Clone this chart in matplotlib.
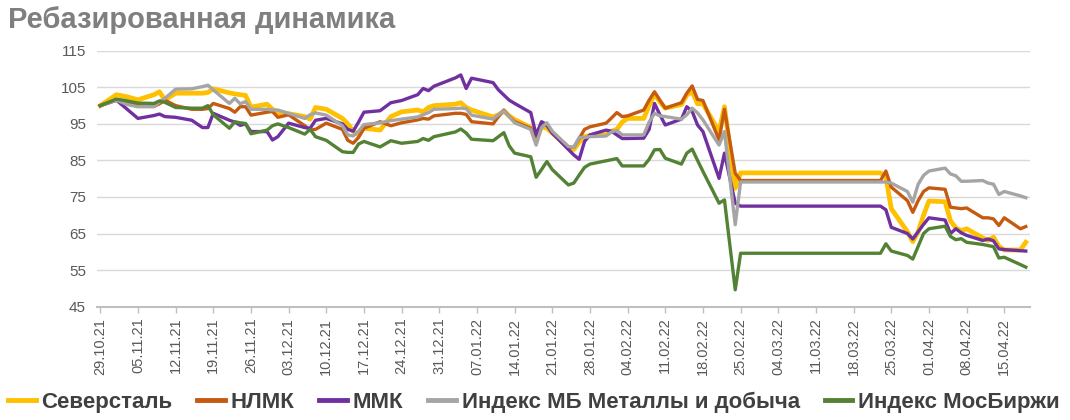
import matplotlib
matplotlib.use('Agg')
import matplotlib.pyplot as plt
import matplotlib.dates as mdates
import pandas as pd

# Торговые дни (выборочно), значения ребазированы к 29.10.21 = 100
dates = [
    '29.10.21', '01.11.21', '03.11.21', '05.11.21', '08.11.21', '09.11.21', '10.11.21', '12.11.21',
    '15.11.21', '17.11.21', '18.11.21', '19.11.21', '22.11.21', '23.11.21', '24.11.21', '25.11.21',
    '26.11.21', '29.11.21', '30.11.21',
    '01.12.21', '03.12.21', '06.12.21', '07.12.21', '08.12.21', '10.12.21', '13.12.21', '14.12.21',
    '15.12.21', '16.12.21', '17.12.21', '20.12.21', '22.12.21', '24.12.21', '27.12.21', '28.12.21',
    '29.12.21', '30.12.21',
    '03.01.22', '04.01.22', '05.01.22', '06.01.22', '10.01.22', '11.01.22', '12.01.22', '13.01.22',
    '14.01.22', '17.01.22', '18.01.22', '19.01.22', '20.01.22', '21.01.22', '24.01.22', '25.01.22',
    '26.01.22', '27.01.22', '28.01.22', '31.01.22',
    '01.02.22', '02.02.22', '03.02.22', '04.02.22', '07.02.22', '08.02.22', '09.02.22', '10.02.22',
    '11.02.22', '14.02.22', '15.02.22', '16.02.22', '17.02.22', '18.02.22', '21.02.22', '22.02.22',
    '24.02.22', '25.02.22',
    '23.03.22', '24.03.22', '25.03.22', '28.03.22', '29.03.22', '30.03.22', '31.03.22',
    '01.04.22', '04.04.22', '05.04.22', '06.04.22', '07.04.22', '08.04.22', '11.04.22', '12.04.22',
    '13.04.22', '14.04.22', '15.04.22', '18.04.22', '19.04.22',
]

severstal = [
    100, 103.0, 102.4, 101.6, 103.0, 103.8, 101.5, 103.4, 103.4, 103.4, 103.6, 104.6, 103.5, 103.2,
    103.0, 102.8, 99.6, 100.4, 99.0,
    98.0, 97.8, 97.0, 96.3, 99.5, 99.0, 96.5, 95.0, 93.0, 92.0, 93.8, 93.3, 97.0, 98.3, 98.8, 98.3,
    99.5, 100.0,
    100.4, 100.8, 99.5, 98.8, 96.9, 97.5, 98.5, 97.2, 96.2, 94.0, 90.5, 94.3, 93.8, 92.5, 88.5, 88.0,
    90.0, 91.5, 91.8, 92.0,
    93.0, 93.5, 95.5, 96.5, 96.5, 100.0, 103.2, 101.0, 99.3, 100.3, 102.9, 103.8, 100.5, 100.5, 92.9,
    99.7, 77.4, 81.6,
    81.6, 80.5, 71.8, 65.5, 62.8, 65.5, 70.0,
    73.9, 73.7, 68.5, 66.5, 65.8, 66.3, 63.8, 63.1, 64.0, 61.5, 60.5, 60.5, 62.6,
]

nlmk = [
    100, 101.5, 100.8, 100.0, 99.8, 100.5, 101.5, 100.0, 99.0, 99.0, 99.2, 100.6, 99.2, 98.2,
    99.7, 99.7, 97.4, 98.2, 98.4,
    96.8, 97.5, 94.5, 93.3, 93.5, 95.2, 93.5, 90.5, 89.7, 91.3, 93.8, 95.6, 94.5, 95.3, 96.1, 96.5,
    96.3, 97.2,
    97.9, 97.9, 97.6, 95.6, 95.0, 97.0, 98.8, 97.0, 95.6, 93.8, 91.5, 95.2, 94.5, 92.5, 88.6, 88.6,
    91.0, 93.5, 94.2, 95.2,
    96.6, 98.1, 97.0, 97.2, 98.8, 101.5, 103.8, 101.5, 99.3, 100.8, 103.4, 105.4, 101.7, 101.4, 90.6,
    99.0, 81.5, 79.5,
    79.5, 82.1, 77.7, 74.0, 70.8, 74.0, 76.5,
    77.5, 77.1, 72.2, 72.0, 71.8, 72.0, 69.3, 69.3, 69.0, 67.2, 69.3, 66.3, 66.9,
]

mmk = [
    100, 101.5, 99.0, 96.5, 97.3, 97.7, 97.0, 96.8, 96.0, 94.0, 94.0, 97.9, 96.0, 95.5,
    94.6, 95.0, 92.9, 92.9, 90.6,
    91.5, 95.2, 94.0, 93.8, 96.0, 96.5, 95.0, 93.5, 93.0, 95.5, 98.2, 98.6, 100.8, 101.4, 103.0, 104.7,
    104.1, 105.3,
    107.6, 108.4, 104.7, 107.5, 106.3, 104.3, 102.9, 101.5, 100.6, 98.1, 92.0, 95.6, 94.8, 92.5, 88.0,
    86.5, 85.3, 90.2, 92.0, 93.3,
    93.0, 92.0, 91.0, 91.0, 91.1, 93.5, 100.6, 97.5, 94.7, 96.3, 99.7, 98.4, 94.7, 92.9, 80.1,
    87.0, 73.3, 72.5,
    72.5, 71.5, 66.7, 65.0, 63.5, 65.5, 67.5,
    69.3, 68.7, 65.0, 66.3, 65.2, 64.5, 63.1, 63.5, 63.0, 60.8, 60.6, 60.3, 60.2,
]

mb_metals = [
    100, 101.5, 100.3, 99.7, 99.7, 101.0, 102.0, 104.5, 104.6, 105.2, 105.6, 104.3, 100.6, 102.0,
    100.5, 101.1, 99.0, 99.0, 98.8,
    98.8, 97.9, 96.5, 97.5, 98.0, 97.4, 94.5, 92.0, 91.7, 93.0, 94.8, 95.3, 95.9, 96.3, 96.9, 97.5,
    98.1, 99.0,
    99.2, 99.3, 99.2, 97.4, 96.3, 97.5, 98.6, 97.0, 95.3, 93.5, 89.2, 94.0, 95.3, 93.0, 88.8, 88.6,
    91.3, 91.3, 91.5, 91.7,
    92.8, 93.2, 92.0, 92.0, 92.0, 95.5, 97.9, 97.2, 97.0, 96.3, 97.5, 99.3, 98.0, 96.1, 89.2,
    92.9, 67.4, 79.1,
    79.1, 79.1, 78.8, 76.5, 73.6, 78.5, 80.9,
    82.1, 82.9, 81.3, 80.8, 79.3, 79.3, 79.5, 78.8, 78.5, 75.7, 76.5, 75.3, 74.8,
]

moex = [
    100, 101.8, 101.3, 100.7, 100.6, 101.3, 100.9, 99.5, 99.3, 99.3, 100.0, 97.5, 93.8, 95.6,
    95.3, 95.1, 92.3, 93.3, 94.5,
    95.0, 94.0, 92.2, 93.5, 91.5, 90.5, 87.4, 87.2, 87.2, 89.5, 90.2, 88.7, 90.4, 89.7, 90.2, 91.0,
    90.5, 91.5,
    92.8, 93.6, 92.5, 90.8, 90.4, 91.5, 92.6, 89.0, 87.0, 86.0, 80.4, 82.5, 84.7, 82.5, 78.3, 78.8,
    81.0, 83.1, 84.0, 84.9,
    85.2, 85.5, 83.5, 83.5, 83.5, 85.3, 87.9, 88.0, 85.6, 84.0, 87.0, 88.1, 85.0, 82.0, 73.3,
    74.2, 49.6, 59.6,
    59.6, 62.2, 60.2, 59.0, 58.0, 61.5, 65.0,
    66.3, 67.0, 64.2, 63.3, 63.6, 62.6, 62.0, 61.7, 61.4, 58.3, 58.5, 56.5, 55.8,
]

names = ['Северсталь', 'НЛМК', 'ММК', 'Индекс МБ Металлы и добыча', 'Индекс МосБиржи']
colors = ['#FFC000', '#C55A11', '#7030A0', '#A5A5A5', '#548235']
widths = [3.4, 2.4, 2.4, 2.4, 2.4]

plt.rcParams['font.family'] = ['Liberation Sans', 'DejaVu Sans']

x = pd.to_datetime(dates, format='%d.%m.%y')

fig = plt.figure(figsize=(10.7, 4.2), dpi=100)
ax = fig.add_axes([0.0907, 0.270, 0.872, 0.609])

for vals, name, c, lw in zip([severstal, nlmk, mmk, mb_metals, moex], names, colors, widths):
    ax.plot(x, vals, color=c, lw=lw, label=name, solid_joinstyle='round')

# оси
ax.set_ylim(45, 115)
ax.set_yticks(range(45, 116, 10))
start = pd.Timestamp('2021-10-29')
ax.set_xlim(start - pd.Timedelta(days=0.6), start + pd.Timedelta(days=172.8))
ax.set_xticks(pd.date_range('2021-10-29', '2022-04-15', freq='7D'))
ax.xaxis.set_major_formatter(mdates.DateFormatter('%d.%m.%y'))
plt.setp(ax.get_xticklabels(), rotation=90, ha='center', va='top')

ax.grid(axis='y', color='#D9D9D9', lw=1)
ax.set_axisbelow(True)
for s in ['top', 'right', 'left']:
    ax.spines[s].set_visible(False)
ax.spines['bottom'].set_color('#BFBFBF')
ax.spines['bottom'].set_linewidth(1.5)
ax.tick_params(axis='y', length=0, pad=8, labelsize=11, labelcolor='#595959')
ax.tick_params(axis='x', length=4, width=1, color='#BFBFBF', direction='out',
               pad=4, labelsize=10.5, labelcolor='#595959')

fig.text(8 / 1070, 1 - 20 / 420, 'Ребазированная динамика', ha='left', va='center',
         fontsize=21, fontweight='bold', color='#7F7F7F')

leg = fig.legend(loc='center left', bbox_to_anchor=(8 / 1070, 0.043), ncol=5, frameon=False,
                 borderpad=0, borderaxespad=0,
                 handlelength=1.25, handletextpad=0.25, columnspacing=1.12,
                 prop={'size': 16, 'weight': 'bold'})
for t in leg.get_texts():
    t.set_color('#404040')
for h in leg.get_lines():
    h.set_linewidth(3.5)

fig.savefig('out.png', dpi=100)
